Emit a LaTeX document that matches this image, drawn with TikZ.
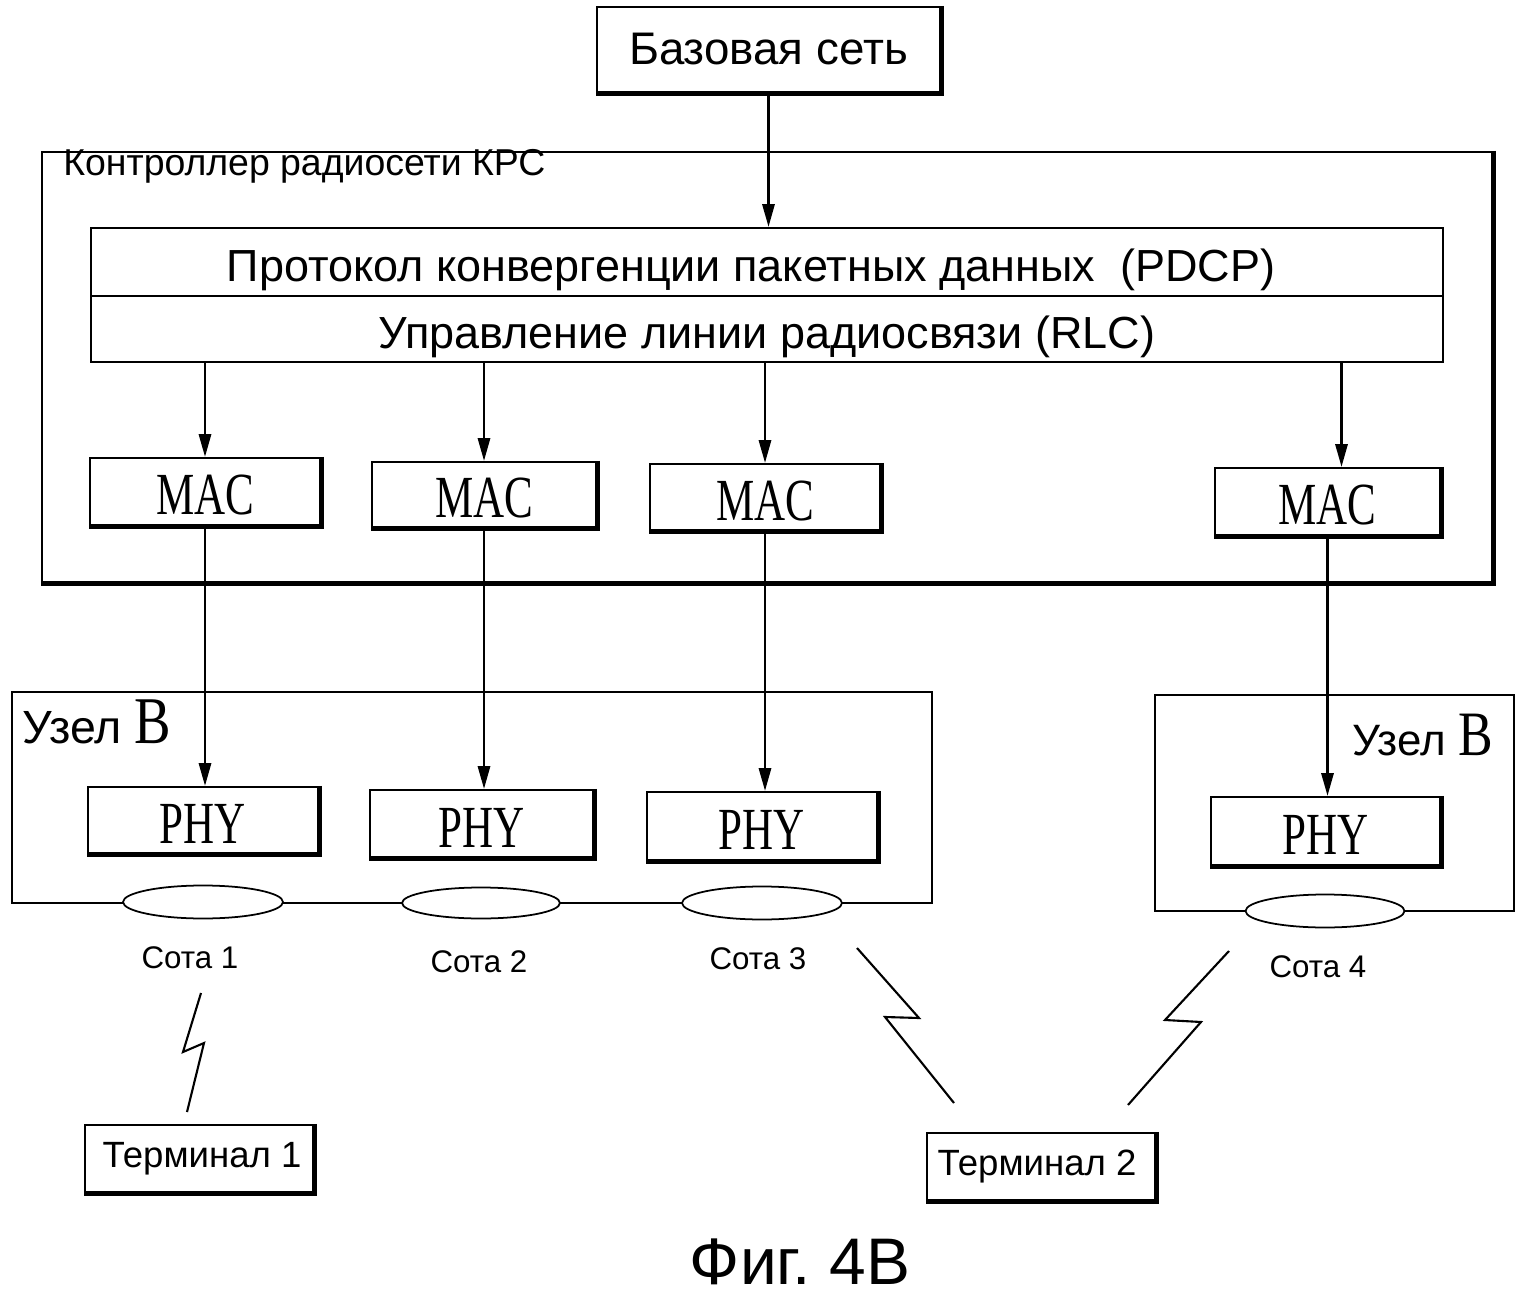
\documentclass[tikz,border=0pt]{standalone}
\usepackage{fontspec}
\setmainfont{Liberation Sans}
\newfontfamily\serifcond[FakeStretch=0.72]{Liberation Serif}
\newfontfamily\serifB[FakeStretch=0.82]{Liberation Serif}
\usetikzlibrary{fit,arrows.meta,calc,shapes.geometric}
\newcommand{\fsz}[1]{\fontsize{#1}{#1}\selectfont}
\frenchspacing
\begin{document}
\begin{tikzpicture}[x=0.02cm,y=-0.02cm,
  box/.style={draw,line width=1.3pt,inner sep=0pt,rectangle},
  shadowline/.style={line width=2.8pt,line cap=butt,line join=miter},
  arr/.style={line width=1.3pt,-{Triangle[length=13pt,width=7pt]}},
  cell/.style={draw,line width=1pt,ellipse,fill=white,inner sep=0pt},
  bolt/.style={line width=1.2pt,line join=miter},
  lbl/.style={inner sep=0pt}]
\useasboundingbox (0,0) rectangle (1525,1297);

% core network
\node[box,fit={(597,7) (940,92)}] (base) {};
\node[lbl] (baset) at (base.center) {\fsz{26}Базовая сеть};

% RNC
\node[box,fit={(42,152) (1492,582)}] (krc) {};
\node[lbl,anchor=west] (krct) at (63,166) {\fsz{21.3}Контроллер радиосети КРС};

\node[box,fit={(91,228) (1443,296)}] (pdcp) {};
\node[lbl] (pdcpt) at ($(pdcp.center)+(-16,8)$) {\fsz{25.6}Протокол конвергенции пакетных данных \ (PDCP)};
\node[box,fit={(91,296) (1443,362)}] (rlc) {};
\node[lbl] (rlct) at ($(rlc.center)+(0,8)$) {\fsz{25.6}Управление линии радиосвязи (RLC)};

% MAC
\node[box,fit={(90,458) (320,525)}] (mac1) {};
\node[box,fit={(372,462) (596,527)}] (mac2) {};
\node[box,fit={(650,464) (880,530)}] (mac3) {};
\node[box,fit={(1215,468) (1440,535)}] (mac4) {};
\foreach \n in {mac1,mac2,mac3,mac4}{
  \node[lbl] at ($(\n.center)+(0,4)$) {\serifcond\fsz{34}MAC};
}

% Node B boxes
\node[box,fit={(12,692) (932,903)}] (nbl) {};
\node[lbl,anchor=west] (nblt) at (22,722) {\fsz{26.5}Узел {\serifB\fsz{38}B}};
\node[box,fit={(1155,695) (1514,911)}] (nbr) {};
\node[lbl,anchor=east] (nbrt) at (1493,735) {\fsz{25}Узел {\serifB\fsz{36}B}};

% PHY
\node[box,fit={(88,787) (318,853)}] (phy1) {};
\node[box,fit={(370,790) (593,857)}] (phy2) {};
\node[box,fit={(647,792) (877,860)}] (phy3) {};
\node[box,fit={(1211,797) (1440,865)}] (phy4) {};
\foreach \n in {phy1,phy2,phy3,phy4}{
  \node[lbl] at ($(\n.center)+(0,4)$) {\serifcond\fsz{34}PHY};
}

% cells
\node[cell,minimum width=3.2cm,minimum height=0.66cm] (c1) at (203,902) {};
\node[cell,minimum width=3.16cm,minimum height=0.62cm] (c2) at (481,903) {};
\node[cell,minimum width=3.2cm,minimum height=0.66cm] (c3) at (762,903) {};
\node[cell,minimum width=3.18cm,minimum height=0.66cm] (c4) at (1325,911) {};
\node[lbl] (c1t) at (190,958) {\fsz{17.8}Сота 1};
\node[lbl] (c2t) at (479,962) {\fsz{17.8}Сота 2};
\node[lbl] (c3t) at (758,959) {\fsz{17.8}Сота 3};
\node[lbl] (c4t) at (1318,967) {\fsz{17.8}Сота 4};

% terminals
\node[box,fit={(85,1125) (313,1192)}] (t1) {};
\node[lbl] (t1t) at ($(t1.center)+(3,0)$) {\fsz{20.8}Терминал 1};
\node[box,fit={(927,1133) (1155,1200)}] (t2) {};
\node[lbl] (t2t) at ($(t2.center)+(-4,0)$) {\fsz{20.8}Терминал 2};

% shadows
\foreach \n in {base,krc,mac1,mac2,mac3,mac4,phy1,phy2,phy3,phy4,t1,t2}{
  \draw[shadowline] (\n.north east) -- (\n.south east) -- (\n.south west);
}

% arrows
\draw[arr] (base.south) -- (base.south |- pdcp.north);
\draw[arr] (rlc.south -| mac1.north) -- (mac1.north);
\draw[arr] (rlc.south -| mac2.north) -- (mac2.north);
\draw[arr] (rlc.south -| mac3.north) -- (mac3.north);
\coordinate (m4in) at ($(mac4.north)+(14,0)$);
\draw[arr] (rlc.south -| m4in) -- (m4in);
\draw[arr] (mac1.south) -- (mac1.south |- phy1.north);
\draw[arr] (mac2.south) -- (mac2.south |- phy2.north);
\draw[arr] (mac3.south) -- (mac3.south |- phy3.north);
\draw[arr] (mac4.south) -- (mac4.south |- phy4.north);

% radio links
\draw[bolt] (201,993) -- (183,1052) -- (204,1043) -- (187,1112);
\draw[bolt] (857,948) -- (919,1018) -- (885,1017) -- (954,1103);
\draw[bolt] (1229,951) -- (1165,1020) -- (1201,1022) -- (1128,1105);

% caption
\node[lbl,anchor=base] (cap) at (800,1284) {\fsz{37.5}Фиг. 4В};
\end{tikzpicture}
\end{document}
